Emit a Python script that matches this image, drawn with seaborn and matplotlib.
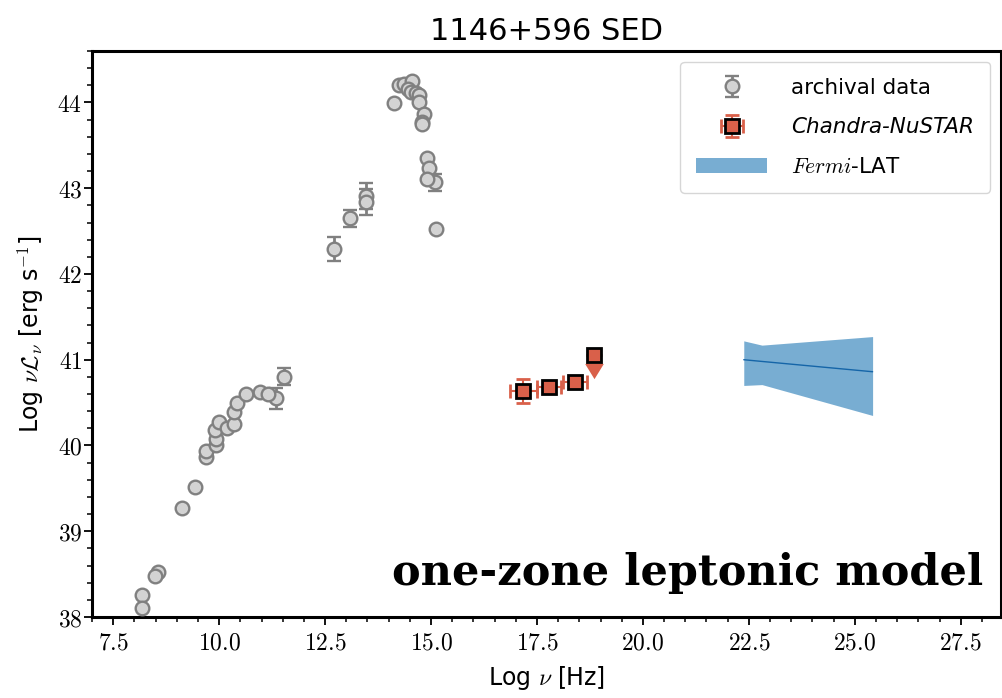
import numpy as np
import seaborn as sns
import matplotlib.pyplot as plt
import matplotlib.ticker as mticker

# Style
sns.set_style("ticks")
plt.rcParams.update({'mathtext.fontset': 'cm', 'font.family': ['DejaVu Sans'],
                     'text.color': 'black', 'axes.labelcolor': 'black',
                     'xtick.color': 'black', 'ytick.color': 'black'})

# Archival points without error bars (log nu, log nuL_nu)
arch_x = [8.17, 8.17, 8.56, 8.49, 9.13, 9.43, 9.69, 9.69, 9.92, 9.92, 9.90, 10.00,
          10.18, 10.35, 10.35, 10.43, 10.63, 10.97, 11.16,
          14.13, 14.25, 14.37, 14.56, 14.46, 14.52, 14.64, 14.72, 14.72, 14.83,
          14.79, 14.79, 14.91, 14.95, 14.91, 15.11]
arch_y = [38.26, 38.10, 38.53, 38.48, 39.27, 39.52, 39.86, 39.94, 40.01, 40.08, 40.18, 40.27,
          40.20, 40.25, 40.39, 40.49, 40.60, 40.62, 40.60,
          43.99, 44.20, 44.22, 44.25, 44.16, 44.12, 44.11, 44.09, 44.01, 43.87,
          43.77, 43.75, 43.35, 43.23, 43.11, 42.53]

# Archival points with error bars
arch_err_x = [11.34, 11.54, 12.71, 13.08, 13.46, 13.46, 15.09]
arch_err_y = [40.55, 40.80, 42.29, 42.65, 42.91, 42.84, 43.07]
arch_err = [0.12, 0.10, 0.14, 0.10, 0.15, 0.15, 0.10]

# Chandra-NuSTAR
xray_x = [17.18, 17.78, 18.40]
xray_y = [40.63, 40.68, 40.74]
xray_xerr = [0.31, 0.28, 0.29]
xray_yerr = [0.14, 0.04, 0.04]
xray_ul_x = [18.85]
xray_ul_y = [41.06]

# Fermi-LAT bowtie
fermi_x = [22.38, 22.81, 25.42]
fermi_lo = [40.70, 40.71, 40.35]
fermi_hi = [41.22, 41.17, 41.27]
fermi_fit = [41.00, 40.98, 40.86]

fig, ax = plt.subplots(figsize=(10.03, 6.98), dpi=100)
fig.subplots_adjust(left=92/1003, right=1001/1003, top=1-51/698, bottom=1-617/698)

grey_face, grey_edge = '#d3d3d3', '#808080'
red = '#d9604a'

# archival data
sns.scatterplot(x=arch_x, y=arch_y, ax=ax, s=96, color=grey_face,
                edgecolor=grey_edge, linewidth=1.7, zorder=3, legend=False)
h_arch = ax.errorbar(arch_err_x, arch_err_y, yerr=arch_err, fmt='o', ms=9.8,
                     mfc=grey_face, mec=grey_edge, mew=1.7, ecolor=grey_edge,
                     elinewidth=2, capsize=5, capthick=2, zorder=2)

# Chandra-NuSTAR
h_x = ax.errorbar(xray_x, xray_y, xerr=xray_xerr, yerr=xray_yerr, fmt='s', ms=9.5,
                  mfc=red, mec='black', mew=2, ecolor=red, elinewidth=1.5,
                  capsize=5, capthick=1.5, zorder=4)
h_ul = ax.errorbar(xray_ul_x, xray_ul_y, yerr=0.1, uplims=True, fmt='s', ms=9.5,
                   mfc=red, mec='black', mew=2, ecolor=red, elinewidth=1.5,
                   capsize=6, zorder=4)
for cap in h_ul[1]:
    cap.set_color(red)
    cap.set_markerfacecolor(red)
    cap.set_markeredgecolor(red)

# Fermi-LAT
h_f = ax.fill_between(fermi_x, fermi_lo, fermi_hi, color='#1f77b4', alpha=0.6,
                      linewidth=0, zorder=1)
ax.plot(fermi_x, fermi_fit, color='#1565a8', lw=1, zorder=2)

ax.set_xlim(7.0, 28.45)
ax.set_ylim(38, 44.6)
ax.xaxis.set_major_locator(mticker.MultipleLocator(2.5))
ax.xaxis.set_minor_locator(mticker.MultipleLocator(0.5))
ax.yaxis.set_major_locator(mticker.MultipleLocator(1))
ax.yaxis.set_minor_locator(mticker.MultipleLocator(0.2))
ax.xaxis.set_major_formatter(mticker.FuncFormatter(lambda v, _: f'${v:.1f}$'))
ax.yaxis.set_major_formatter(mticker.FuncFormatter(lambda v, _: f'${v:.0f}$'))
ax.tick_params(which='major', length=6, width=1.3, labelsize=17, direction='out')
ax.tick_params(axis='y', which='major', pad=1)
ax.tick_params(which='minor', length=3.5, width=1.1, direction='out')
for sp in ax.spines.values():
    sp.set_linewidth(2.2)
    sp.set_color('black')

ax.set_xlabel(r'Log $\nu$ [Hz]', fontsize=17, labelpad=7)
ax.set_ylabel(r'Log $\nu\mathcal{L}_\nu$ [erg s$^{-1}$]', fontsize=17, labelpad=8)
ax.set_title('1146+596 SED', fontsize=22, pad=8)

ax.text(0.981, 0.057, 'one-zone leptonic model', transform=ax.transAxes,
        ha='right', va='baseline', fontsize=31, fontweight='bold',
        family='DejaVu Serif')

leg = ax.legend([h_arch, h_x, h_f], ['archival data', 'Chandra-NuSTAR', r'$Fermi$-LAT'],
                loc='upper right', fontsize=15.5, frameon=True, fancybox=True,
                labelspacing=0.9, handlelength=3.3, handletextpad=1.1,
                borderpad=0.75, borderaxespad=0.5)
leg.get_texts()[1].set_fontstyle('italic')

plt.savefig('out.png', dpi=100)
